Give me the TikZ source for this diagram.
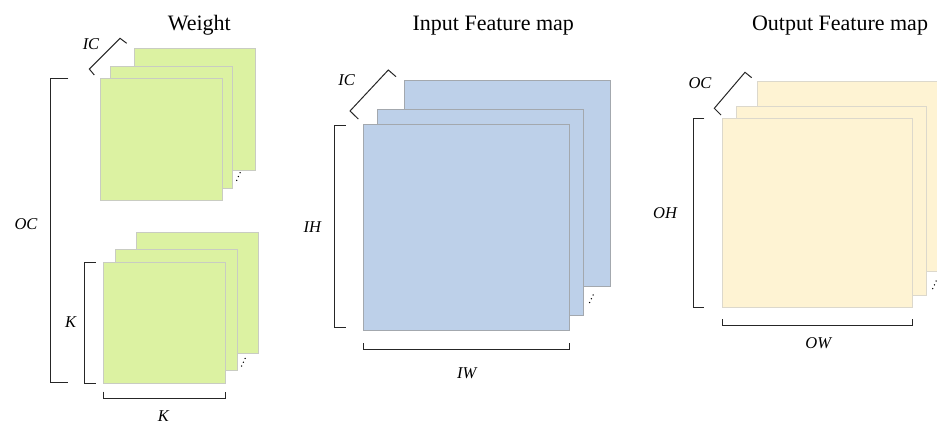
\documentclass[tikz,border=0pt]{standalone}
\usepackage{fontspec}
\setmainfont{Liberation Serif}
\definecolor{wgreen}{HTML}{DCF2A2}
\definecolor{wgreenb}{HTML}{C9CCC2}
\definecolor{iblue}{HTML}{BDD0E9}
\definecolor{iblueb}{HTML}{A3A8AE}
\definecolor{oyel}{HTML}{FEF3D3}
\definecolor{oyelb}{HTML}{DCD8CC}
\tikzset{
  wsheet/.style={fill=wgreen,draw=wgreenb,line width=0.9pt},
  isheet/.style={fill=iblue,draw=iblueb,line width=0.9pt},
  osheet/.style={fill=oyel,draw=oyelb,line width=0.9pt},
  brk/.style={draw=black!85,line width=1pt},
  ttl/.style={font=\fontsize{22}{24}\selectfont,anchor=base,inner sep=0pt},
  lbl/.style={font=\fontsize{16.5}{18}\selectfont\itshape,inner sep=0pt},
  dotc/.style={fill=black,draw=none}
}
\newcommand{\tridots}[2]{%
  \fill[dotc] (#1,#2) circle (0.75);
  \fill[dotc] (#1+1.7,#2-3.8) circle (0.75);
  \fill[dotc] (#1+3.4,#2-7.6) circle (0.75);}
\begin{document}
\begin{tikzpicture}[x=1pt,y=-1pt]
\useasboundingbox (0,0) rectangle (937,425);
\clip (0,0) rectangle (937,425);
% ---------- Weight ----------
\node[ttl] (tw) at (199.3,30.5) {Weight};
\draw[wsheet] (134.3,48.3) rectangle (255.7,170);
\draw[wsheet] (110.7,66.7) rectangle (232,188.3);
\draw[wsheet] (100.7,78.7) rectangle (222.7,200);
\tridots{236.7}{180.3}
\draw[wsheet] (136.7,232.3) rectangle (258.7,353.7);
\draw[wsheet] (115.7,249.3) rectangle (237.7,370.7);
\draw[wsheet] (103.3,262) rectangle (225.3,383.7);
\tridots{241.7}{366}
\draw[brk] (94.3,75)--(89.3,69)--(120,38.3)--(126.7,43.3);
\node[lbl] (wic) at (91,44) {IC};
\draw[brk] (68.3,79)--(50,79)--(50,382.7)--(68.3,382.7);
\node[lbl] (woc) at (26,224) {OC};
\draw[brk] (95.7,262)--(84,262)--(84,383.7)--(95.7,383.7);
\node[lbl] (wk1) at (70.7,322.3) {K};
\draw[brk] (103.3,391.7)--(103.3,398.3)--(225.3,398.3)--(225.3,391.7);
\node[lbl] (wk2) at (163.3,416.3) {K};
% ---------- Input ----------
\node[ttl] (ti) at (493.3,30.5) {Input Feature map};
\draw[isheet] (404.3,80.3) rectangle (610.7,286.7);
\draw[isheet] (377.3,109) rectangle (583.7,315);
\draw[isheet] (363.3,124.3) rectangle (569.7,330);
\tridots{589.7}{302.5}
\draw[brk] (358.3,119)--(350,111)--(388.3,70)--(396,76.7);
\node[lbl] (iic) at (346.7,80) {IC};
\draw[brk] (345.7,125.7)--(334.3,125.7)--(334.3,327.3)--(345.7,327.3);
\node[lbl] (iih) at (312.3,226.7) {IH};
\draw[brk] (363.3,343.3)--(363.3,349.3)--(569.7,349.3)--(569.7,343.3);
\node[lbl] (iiw) at (466.7,373.3) {IW};
% ---------- Output ----------
\node[ttl] (to) at (840,31) {Output Feature map};
\draw[osheet] (757.7,81.7) rectangle (960,271);
\draw[osheet] (736.7,106) rectangle (926.7,295.7);
\draw[osheet] (722.7,118.3) rectangle (912.7,307.7);
\tridots{932.7}{288.7}
\draw[brk] (721,115)--(714.3,108.3)--(745,72.3)--(751.7,77.7);
\node[lbl] (ooc) at (700,83.3) {OC};
\draw[brk] (704.3,118.3)--(693.3,118.3)--(693.3,307.3)--(704.3,307.3);
\node[lbl] (ooh) at (665,213.3) {OH};
\draw[brk] (722.7,319)--(722.7,325.7)--(912.7,325.7)--(912.7,319);
\node[lbl] (oow) at (818.3,343.3) {OW};
\end{tikzpicture}
\end{document}
